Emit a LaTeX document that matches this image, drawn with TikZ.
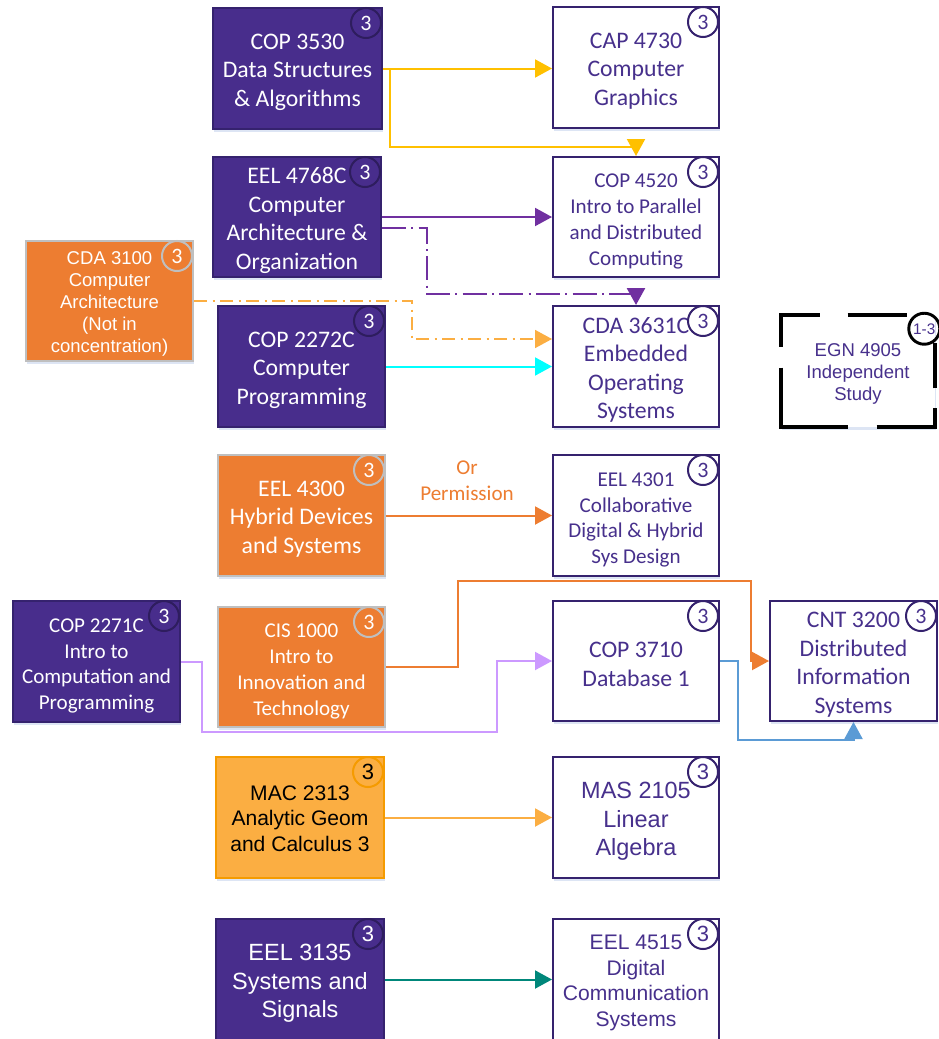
\documentclass[tikz,border=0pt]{standalone}
\usepackage{fontspec}
\setmainfont{Carlito}
\newfontfamily\arialf{Liberation Sans}
\usetikzlibrary{arrows.meta,shadows,calc}
\definecolor{pfill}{HTML}{482D8C}
\definecolor{pborder}{HTML}{35226E}
\definecolor{ptext}{HTML}{47308C}
\definecolor{cdk}{HTML}{2E1D5E}
\definecolor{ofill}{HTML}{ED7D31}
\definecolor{ogrey}{HTML}{BFBFBF}
\definecolor{lofill}{HTML}{FBAE42}
\definecolor{loborder}{HTML}{F59B00}
\definecolor{ylw}{HTML}{FFC000}
\definecolor{purp}{HTML}{7030A0}
\definecolor{cyanl}{HTML}{00FFFF}
\definecolor{lpurp}{HTML}{CC99FF}
\definecolor{bluel}{HTML}{5B9BD5}
\definecolor{teal}{HTML}{00877A}
\definecolor{shadowc}{HTML}{B4C7E7}
\newcommand{\ftbig}{\fontsize{17.8}{21.4}\selectfont}
\newcommand{\ftsmall}{\fontsize{15.8}{19.3}\selectfont}
\newcommand{\ftarS}{\arialf\fontsize{13.9}{16.5}\selectfont}
\newcommand{\ftarM}{\arialf\fontsize{15.8}{19.2}\selectfont}
\newcommand{\ftarL}{\arialf\fontsize{17.6}{21.6}\selectfont}
\newcommand{\up}[1]{\rule{0pt}{#1}}
\tikzset{
  sz/.style 2 args={minimum width=#1*0.75pt, minimum height=#2*0.75pt},
  base/.style={rectangle, inner sep=0pt, align=center, line width=1.5pt,
    drop shadow={shadow xshift=0.5pt, shadow yshift=-2.5pt, fill=shadowc, opacity=0.45}},
  dark/.style={base, fill=pfill, draw=pborder, text=white},
  wbox/.style={base, fill=white, draw=pborder, text=ptext},
  obox/.style={base, fill=ofill, draw=ogrey, text=white},
  mbox/.style={base, fill=lofill, draw=loborder, text=black},
  crc/.style={circle, minimum size=22.5pt, inner sep=0pt, line width=1.5pt, font=\fontsize{16.5}{16.5}\selectfont},
  cdark/.style={crc, draw=cdk, text=white},
  cwhite/.style={crc, draw=pborder, text=ptext},
  cgrey/.style={crc, draw=ogrey, text=white},
  cmac/.style={crc, draw=loborder, text=black},
  link/.style={line width=1.5pt, -{Triangle[length=12.75pt, width=13.5pt]}},
}
\newcommand{\credit}[3]{\node[#2] (#1c) at ($(#1.north east)+(-17,16)$) {#3};}
\begin{document}
\begin{tikzpicture}[x=0.75pt, y=-0.75pt]
\clip (0,0) rectangle (939,1039);
\fill[white] (0,0) rectangle (939,1039);

% boxes
\node[dark, sz={169}{121}, font=\ftbig] (cop3530) at (297.5,68.5) {\up{17pt}COP 3530\\Data Structures\\\& Algorithms};
\node[wbox, sz={166}{121}, font=\ftbig] (cap4730) at (636,67.5) {\up{17pt}CAP 4730\\Computer\\Graphics};
\node[dark, sz={168}{120}, font=\ftbig] (eel4768) at (297,217) {\up{17pt}EEL 4768C\\Computer\\Architecture \&\\Organization};
\node[wbox, sz={166}{120}, font=\ftsmall] (cop4520) at (636,217) {\up{17pt}COP 4520\\Intro to Parallel\\and Distributed\\Computing};
\node[obox, sz={167}{120}, font=\ftarS] (cda3100) at (109.5,301) {\up{14.5pt}CDA 3100\\Computer\\Architecture\\(Not in\\concentration)};
\node[dark, sz={167}{121}, font=\ftbig] (cop2272) at (301.5,366.5) {\up{17pt}COP 2272C\\Computer\\Programming};
\node[wbox, sz={166}{121}, font=\ftbig] (cda3631) at (636,366.5) {\up{17pt}CDA 3631C\\Embedded\\Operating\\Systems};
\node[rectangle, inner sep=0pt, align=center, fill=white, sz={154}{112}, text=ptext, font=\ftarS,
  drop shadow={shadow xshift=0.5pt, shadow yshift=-2.5pt, fill=shadowc, opacity=0.45}] (egn4905) at (858,371) {\up{14.5pt}EGN 4905\\Independent\\Study};
\node[obox, sz={167}{121}, font=\ftbig] (eel4300) at (301.5,515.5) {\up{17pt}EEL 4300\\Hybrid Devices\\and Systems};
\node[wbox, sz={166}{121}, font=\ftsmall] (eel4301) at (636,515.5) {\up{17pt}EEL 4301\\Collaborative\\Digital \& Hybrid\\Sys Design};
\node[dark, sz={167}{121}, font=\ftsmall] (cop2271) at (96.5,661.5) {\up{17pt}COP 2271C\\Intro to\\Computation and\\Programming};
\node[obox, sz={167}{120}, font=\ftsmall] (cis1000) at (301.5,667) {\up{17pt}CIS 1000\\Intro to\\Innovation and\\Technology};
\node[wbox, sz={166}{120}, font=\ftbig] (cop3710) at (636,661) {\up{17pt}COP 3710\\Database 1};
\node[wbox, sz={167}{120}, font=\ftbig] (cnt3200) at (853.5,661) {\up{17pt}CNT 3200\\Distributed\\Information\\Systems};
\node[mbox, sz={168}{121}, font=\ftarM] (mac2313) at (300,817.5) {\up{12.8pt}MAC 2313\\Analytic Geom\\and Calculus 3};
\node[wbox, sz={166}{121}, font=\ftarL] (mas2105) at (636,817.5) {\up{18pt}MAS 2105\\Linear\\Algebra};
\node[dark, sz={168}{121}, font=\ftarL] (eel3135) at (300,979.5) {\up{18pt}EEL 3135\\Systems and\\Signals};
\node[wbox, sz={166}{121}, font=\ftarM] (eel4515) at (636,979.5) {\up{16pt}EEL 4515\\Digital\\Communication\\Systems};

% EGN 4905 broken border
\begin{scope}[line width=3pt, black]
\draw ($(egn4905.north west)+(0,32)$) -- (egn4905.north west) -- ++(39,0);
\draw ($(egn4905.north west)+(67,0)$) -- ++(59,0);
\draw ($(egn4905.north west)+(0,53)$) -- (egn4905.south west) -- ++(67,0);
\draw ($(egn4905.south west)+(96,0)$) -- (egn4905.south east) -- ++(0,-19);
\draw ($(egn4905.south east)+(0,-39)$) -- ++(0,-45);
\end{scope}
\node[circle, minimum size=31*0.75pt, inner sep=0pt, draw=black, line width=2.2pt, text=ptext,
  font=\arialf\fontsize{11.5}{11.5}\selectfont] (egnc) at ($(egn4905.north east)+(-11,14)$) {1-3};

% credits
\credit{cop3530}{cdark}{3}
\credit{cap4730}{cwhite}{3}
\credit{eel4768}{cdark}{3}
\credit{cop4520}{cwhite}{3}
\credit{cda3100}{cgrey}{3}
\credit{cop2272}{cdark}{3}
\credit{cda3631}{cwhite}{3}
\credit{eel4300}{cgrey}{3}
\credit{eel4301}{cwhite}{3}
\credit{cop2271}{cdark}{3}
\credit{cis1000}{cgrey}{3}
\credit{cop3710}{cwhite}{3}
\credit{cnt3200}{cwhite}{3}
\credit{mac2313}{cmac}{\arialf 3}
\credit{mas2105}{cwhite}{\arialf 3}
\credit{eel3135}{cdark}{\arialf 3}
\credit{eel4515}{cwhite}{\arialf 3}

% connectors
\draw[link, ylw] (cop3530.east) -- (cop3530.east -| cap4730.west);
\draw[link, ylw] (cop3530.east) -- ++(7,0) |- ($(cop4520.north)+(0,-9)$) -- (cop4520.north);
\draw[link, purp] (eel4768.east) -- (eel4768.east -| cop4520.west);
\draw[link, purp, line width=2pt, dash pattern=on 18pt off 4pt on 1.5pt off 4pt]
  ($(eel4768.east)+(0,11)$) -| ($(cda3631.north)+(-209,-11)$) -- ($(cda3631.north)+(0,-11)$) -- (cda3631.north);
\draw[link, lofill, line width=1.2pt, dash pattern=on 10pt off 4pt on 1.5pt off 4pt]
  (cda3100.east) -| ($(cda3631.west)+(-140,-27.5)$) -- ($(cda3631.west)+(0,-27.5)$);
\draw[link, cyanl] (cop2272.east) -- (cop2272.east -| cda3631.west);
\draw[link, ofill] (eel4300.east) -- (eel4300.east -| eel4301.west);
\node[align=center, text=ofill, font=\ftsmall] (perm) at (467,481) {Or\\Permission};
\draw[link, ofill] (cis1000.east) -- ++(72,0) |- ($(cnt3200.west)+(-18,-80)$) |- (cnt3200.west);
\draw[link, lpurp] (cop2271.east) -- ++(21,0) |- ($(cop3710.west)+(-55,71)$) |- (cop3710.west);
\draw[link, bluel] (cop3710.east) -- ++(18,0) |- ($(cnt3200.south)+(0,18)$) -- (cnt3200.south);
\draw[link, lofill] (mac2313.east) -- (mac2313.east -| mas2105.west);
\draw[link, teal] (eel3135.east) -- (eel3135.east -| eel4515.west);
\end{tikzpicture}
\end{document}
